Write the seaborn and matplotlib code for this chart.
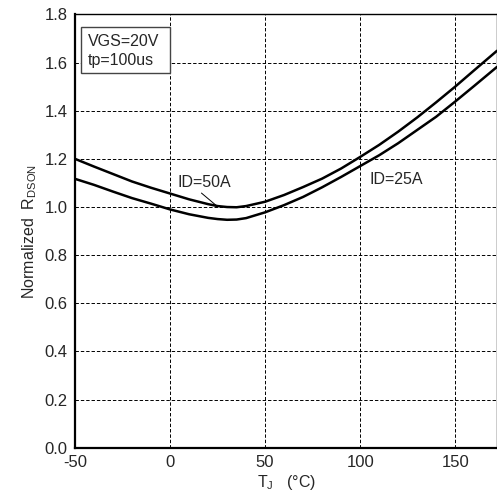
import numpy as np
import pandas as pd
import seaborn as sns
import matplotlib.pyplot as plt
from matplotlib.patches import Rectangle

# Values
temp = [-50, -40, -30, -20, -10, 0, 10, 20, 25, 30, 35, 40, 50, 60, 70, 80, 90,
        100, 110, 120, 130, 140, 150, 160, 172]
r_50a = [1.200, 1.168, 1.137, 1.106, 1.080, 1.056, 1.032, 1.012, 1.004, 1.000,
         0.999, 1.004, 1.022, 1.050, 1.083, 1.118, 1.160, 1.208, 1.258, 1.313,
         1.372, 1.435, 1.500, 1.568, 1.649]
r_25a = [1.117, 1.092, 1.064, 1.037, 1.014, 0.990, 0.970, 0.955, 0.950, 0.947,
         0.948, 0.954, 0.978, 1.008, 1.042, 1.082, 1.125, 1.170, 1.215, 1.265,
         1.320, 1.375, 1.438, 1.503, 1.582]
series = ['ID=50A', 'ID=25A']
x_ticks = [-50, 0, 50, 100, 150]
y_ticks = [0.0, 0.2, 0.4, 0.6, 0.8, 1.0, 1.2, 1.4, 1.6, 1.8]

df = pd.DataFrame({
    'T': temp * 2,
    'R': r_50a + r_25a,
    'ID': [series[0]] * len(temp) + [series[1]] * len(temp),
})

sns.set_style('white')
plt.rcParams['font.family'] = ['Liberation Sans', 'DejaVu Sans']
plt.rcParams['mathtext.fontset'] = 'custom'
plt.rcParams['mathtext.rm'] = 'Liberation Sans'
fs = 11.5
tfs = 12

fig = plt.figure(figsize=(4.97, 4.97), dpi=100)
ax = fig.add_axes([0.151, 0.099, 0.849, 0.872])

sns.lineplot(data=df, x='T', y='R', hue='ID', palette=['black', 'black'],
             linewidth=1.8, legend=False, ax=ax)

ax.set_xlim(-50, 172)
ax.set_ylim(0, 1.8)
ax.set_xticks(x_ticks)
ax.set_yticks(y_ticks)
ax.set_xticklabels([str(t) for t in x_ticks], fontsize=tfs)
ax.set_yticklabels([f'{t:.1f}' for t in y_ticks], fontsize=tfs)
ax.tick_params(axis='x', length=0, pad=5.5)
ax.tick_params(axis='y', length=0, pad=5.5)
ax.grid(True, color='black', linestyle=(0, (3.5, 2)), linewidth=0.7)

for s in ['left', 'bottom']:
    ax.spines[s].set_linewidth(1.6)
    ax.spines[s].set_color('black')
for s in ['top', 'right']:
    ax.spines[s].set_linewidth(1.0)
    ax.spines[s].set_color('black')

ax.set_xlabel('T$_{\\mathregular{J}}$   (°C)', fontsize=fs, labelpad=2)
ax.set_ylabel('Normalized  R$_{\\mathregular{DSON}}$', fontsize=fs, labelpad=4)

# annotations
ax.text(4, 1.10, 'ID=50A', fontsize=fs, va='center')
ax.plot([16.5, 24.5], [1.058, 1.005], color='black', linewidth=0.7)
ax.text(105, 1.114, 'ID=25A', fontsize=fs, va='center')
ax.add_patch(Rectangle((-47, 1.558), 47, 0.191, facecolor='white',
                       edgecolor='#444444', linewidth=1.0, zorder=3))
ax.text(-43.2, 1.686, 'VGS=20V', fontsize=fs, va='center', zorder=4)
ax.text(-43.2, 1.607, 'tp=100us', fontsize=fs, va='center', zorder=4)

fig.savefig('out.png', dpi=100)
